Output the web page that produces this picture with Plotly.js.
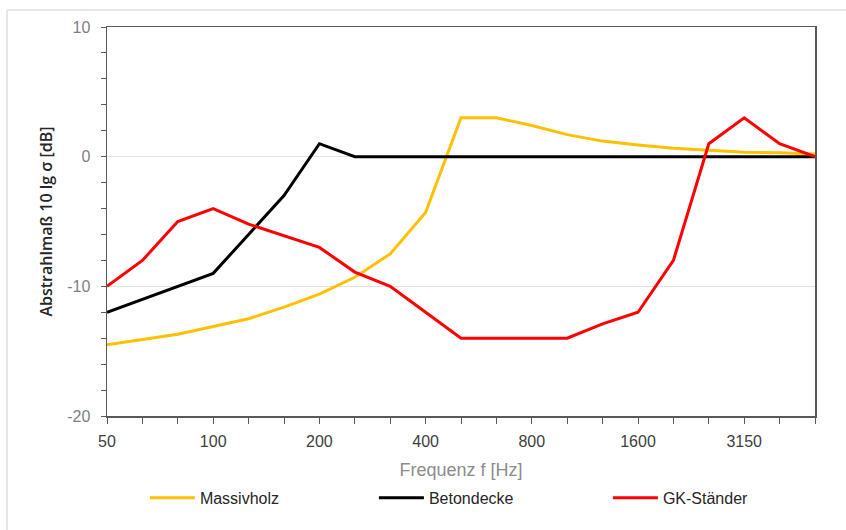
<!DOCTYPE html>
<html>
<head>
<meta charset="utf-8">
<script src="https://cdn.plot.ly/plotly-3.0.1.min.js"></script>
<style>html,body{margin:0;padding:0;background:#fff;}#chart{width:846px;height:530px;}</style>
</head>
<body>
<div id="chart"></div>
<script>
// Third-octave band centre frequencies [Hz]
var frequencies = ['50','63','80','100','125','160','200','250','315','400','500','630','800','1000','1250','1600','2000','2500','3150','4000','5000'];
// Labelled x ticks
var tickLabels = ['50','100','200','400','800','1600','3150'];
// y ticks
var yTickVals = [-20, -10, 0, 10];
var yTickText = ['-20', '-10', '0', '10'];

// Abstrahlmaß 10 lg σ [dB]
var massivholz = [-14.5,-14.1,-13.7,-13.1,-12.5,-11.6,-10.6,-9.3,-7.5,-4.3,3.0,3.0,2.4,1.7,1.2,0.9,0.65,0.5,0.35,0.3,0.2];
var betondecke = [-12,-11,-10,-9,-6,-3,1,0,0,0,0,0,0,0,0,0,0,0,0,0,0];
var gkStaender = [-10,-8,-5,-4,-5.2,-6.1,-7,-8.9,-10,-12,-14,-14,-14,-14,-12.9,-12,-8,1,3,1,0];

var seriesNames = ['Massivholz','Betondecke','GK-Ständer'];
var seriesValues = [massivholz, betondecke, gkStaender];
var seriesColors = ['#FFC000','#000000','#FF0000'];
var legendIds = ['legend','legend2','legend3'];
var legendX = [0.0535, 0.377, 0.7075];

var font = '"Liberation Sans", Arial, sans-serif';

var traces = seriesValues.map(function(v, i){
  return {
    type: 'scatter', mode: 'lines',
    x: frequencies, y: v, name: seriesNames[i],
    legend: legendIds[i],
    line: {color: seriesColors[i], width: 3},
    hoverinfo: 'x+y+name'
  };
});

var layout = {
  width: 846, height: 530,
  margin: {l: 107, r: 31, t: 27, b: 114},
  paper_bgcolor: '#ffffff', plot_bgcolor: '#ffffff',
  font: {family: font, size: 15, color: '#595959'},
  showlegend: true,
  xaxis: {
    type: 'category', categoryorder: 'array', categoryarray: frequencies,
    range: [0, frequencies.length - 1],
    tickmode: 'array', tickvals: frequencies,
    ticktext: frequencies.map(function(f){ return tickLabels.indexOf(f) >= 0 ? f : ''; }),
    ticks: 'outside', ticklen: 6, tickwidth: 1, tickcolor: '#595959',
    ticklabelstandoff: 4,
    showline: true, linecolor: '#595959', linewidth: 1.5, mirror: true,
    showgrid: false, zeroline: false,
    tickfont: {family: font, size: 16, color: '#404040'},
    title: {text: 'Frequenz f [Hz]', font: {family: font, size: 18, color: '#8c8c8c'}, standoff: 14}
  },
  yaxis: {
    range: [-20, 10],
    tickmode: 'array', tickvals: yTickVals, ticktext: yTickText,
    ticks: 'outside', ticklen: 5, tickwidth: 1, tickcolor: '#595959',
    ticklabelstandoff: 7,
    minor: {dtick: 2, tick0: 0, ticks: 'outside', ticklen: 5, tickcolor: '#595959', showgrid: false},
    showline: true, linecolor: '#595959', linewidth: 1.5, mirror: true,
    showgrid: true, gridcolor: '#e3e3e3', gridwidth: 1, zeroline: false,
    tickfont: {family: font, size: 16, color: '#7f7f7f'},
    title: {text: 'Abstrahlmaß 10 lg σ [dB]', font: {family: '"Open Sans", sans-serif', size: 16, color: '#262626', weight: 600}, standoff: 10}
  },
  shapes: [
    {type: 'line', xref: 'paper', yref: 'paper', x0: -0.1412, x1: 1.05, y0: 1.044, y1: 1.044, line: {color: '#e6e6e6', width: 2}},
    {type: 'line', xref: 'paper', yref: 'paper', x0: -0.1412, x1: -0.1412, y0: 1.044, y1: -0.3, line: {color: '#e6e6e6', width: 2}}
  ]
};

legendIds.forEach(function(id, i){
  layout[id] = {
    orientation: 'h', x: legendX[i], xanchor: 'left', y: -0.167, yanchor: 'top',
    font: {family: font, size: 16, color: '#262626'},
    itemwidth: 45, bgcolor: 'rgba(0,0,0,0)'
  };
});

Plotly.newPlot('chart', traces, layout, {displayModeBar: false, staticPlot: true});
</script>
</body>
</html>
